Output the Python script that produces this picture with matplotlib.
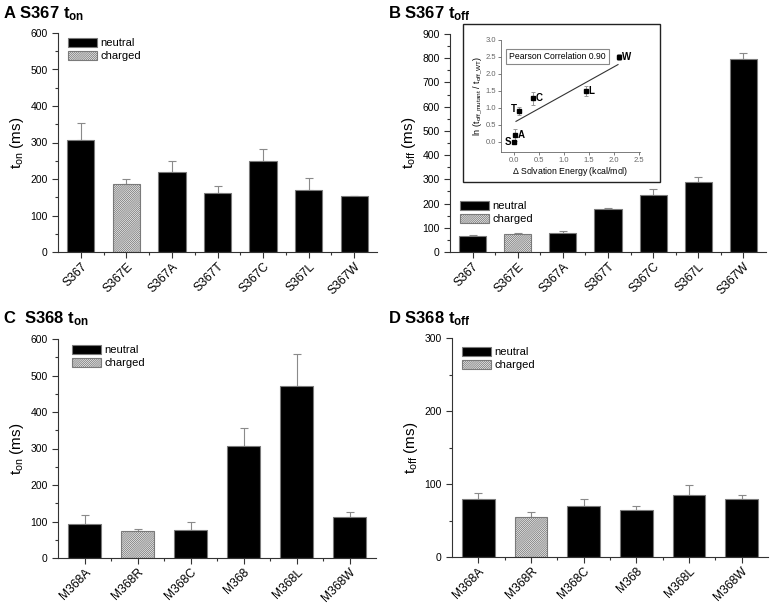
import numpy as np
import matplotlib
matplotlib.use("Agg")
import matplotlib.pyplot as plt
from matplotlib.patches import Patch, Rectangle

plt.rcParams['font.family'] = ['Liberation Sans', 'DejaVu Sans']
plt.rcParams['mathtext.fontset'] = 'custom'
plt.rcParams['mathtext.rm'] = 'Liberation Sans'
plt.rcParams['mathtext.it'] = 'Liberation Sans'
plt.rcParams['mathtext.bf'] = 'Liberation Sans:bold'
plt.rcParams['hatch.linewidth'] = 0.6
plt.rcParams['hatch.color'] = '#707070'

# ---- data ----
a_labels = ["S367", "S367E", "S367A", "S367T", "S367C", "S367L", "S367W"]
a_values = [307, 185, 220, 163, 248, 169, 153]
a_errors = [47, 14, 28, 19, 33, 35, 0]
a_charged = [False, True, False, False, False, False, False]

b_labels = ["S367", "S367E", "S367A", "S367T", "S367C", "S367L", "S367W"]
b_values = [65, 74, 80, 177, 235, 289, 798]
b_errors = [6, 6, 8, 6, 26, 21, 24]
b_charged = [False, True, False, False, False, False, False]

c_labels = ["M368A", "M368R", "M368C", "M368", "M368L", "M368W"]
c_values = [94, 73, 78, 307, 470, 112]
c_errors = [25, 6, 22, 48, 90, 15]
c_charged = [False, True, False, False, False, False]

d_labels = ["M368A", "M368R", "M368C", "M368", "M368L", "M368W"]
d_values = [79, 55, 70, 65, 85, 79]
d_errors = [9, 6, 9, 5, 14, 6]
d_charged = [False, True, False, False, False, False]

# inset data
inset_names = ["S", "A", "T", "C", "L", "W"]
inset_x = [0.0, 0.02, 0.10, 0.38, 1.44, 2.10]
inset_y = [0.0, 0.20, 0.92, 1.28, 1.50, 2.50]
inset_err = [0.0, 0.18, 0.12, 0.20, 0.15, 0.10]
fit_slope = 0.82
fit_intercept = 0.57
fit_range = [0.04, 2.08]
pearson_r = 0.90

fig = plt.figure(figsize=(7.7, 6.03), dpi=100)
W, H = 770.0, 603.0

def fig_rect(l, r, t, b):
    return [l / W, (H - b) / H, (r - l) / W, (b - t) / H]

EDGE = '#7a7a7a'
HATCH = '////////////////'

def bar_panel(rect, labels, values, errors, charged, ymax, ylabel, title, title_xy, leg_xy, bw):
    ax = fig.add_axes(rect)
    x = np.arange(len(labels))
    for i in range(len(labels)):
        if charged[i]:
            ax.bar(x[i], values[i], width=bw, color='white', edgecolor=EDGE,
                   hatch=HATCH, linewidth=0.8, zorder=2)
        else:
            ax.bar(x[i], values[i], width=bw, color='black', edgecolor=EDGE,
                   linewidth=0.8, zorder=2)
    errs = np.array(errors, dtype=float)
    ax.errorbar(x, values, yerr=[np.zeros_like(errs), errs], fmt='none',
                ecolor='#8a8a8a', elinewidth=0.8, capsize=3, capthick=0.8, zorder=1)
    ax.set_xlim(-0.5, len(labels) - 0.5)
    ax.set_ylim(0, ymax)
    ax.set_xticks(x)
    ax.set_xticklabels(labels, rotation=45, ha='right', rotation_mode='anchor', fontsize=8.7)
    ax.set_xticks(x[:-1] + 0.5, minor=True)
    ax.set_yticks(np.arange(0, ymax + 1, 100))
    ax.set_yticks(np.arange(50, ymax, 100), minor=True)
    ax.tick_params(axis='y', labelsize=7.5, length=4, width=0.8, colors='#333333')
    ax.tick_params(axis='x', length=4, width=0.8, colors='#333333', pad=2)
    ax.tick_params(which='minor', length=2, width=0.8, colors='#333333')
    ax.tick_params(axis='x', labelcolor='black')
    ax.tick_params(axis='y', labelcolor='black')
    for s in ['top', 'right']:
        ax.spines[s].set_visible(False)
    for s in ['left', 'bottom']:
        ax.spines[s].set_color('#333333')
        ax.spines[s].set_linewidth(0.8)
    ax.set_ylabel(ylabel, fontsize=11, labelpad=3)
    fig.text(title_xy[0] / W, 1 - title_xy[1] / H, title, fontsize=12,
             fontweight='bold', ha='left', va='baseline')
    handles = [Patch(facecolor='black', edgecolor=EDGE, linewidth=0.8, label='neutral'),
               Patch(facecolor='white', edgecolor=EDGE, hatch=HATCH,
                     linewidth=0.8, label='charged')]
    ax.legend(handles=handles, loc='upper left',
              bbox_to_anchor=(leg_xy[0] / W, 1 - leg_xy[1] / H),
              bbox_transform=fig.transFigure, frameon=False, fontsize=8,
              handlelength=2.6, handleheight=0.85, handletextpad=0.3,
              labelspacing=0.25, borderpad=0, borderaxespad=0)
    return ax

axA = bar_panel(fig_rect(58, 377, 33, 252), a_labels, a_values, a_errors, a_charged,
                600, r'$\mathregular{t_{on}}$ (ms)', r'A S367 $\mathbf{t_{on}}$', (3, 18), (68, 38), 0.6)
axB = bar_panel(fig_rect(450, 766, 34, 252), b_labels, b_values, b_errors, b_charged,
                900, r'$\mathregular{t_{off}}$ (ms)', r'B S367 $\mathbf{t_{off}}$', (388, 18), (460, 201), 0.6)
axC = bar_panel(fig_rect(58, 376, 339, 558), c_labels, c_values, c_errors, c_charged,
                600, r'$\mathregular{t_{on}}$ (ms)', r'C  S368 $\mathbf{t_{on}}$', (3, 323), (72, 345), 0.63)
axD = bar_panel(fig_rect(452, 768, 338, 557), d_labels, d_values, d_errors, d_charged,
                300, r'$\mathregular{t_{off}}$ (ms)', r'D S368 $\mathbf{t_{off}}$', (388, 323), (462, 347), 0.62)

# ---- inset ----
box = Rectangle((463 / W, 1 - 182 / H), 197 / W, 158 / H, transform=fig.transFigure,
                facecolor='white', edgecolor='#222222', linewidth=1.0, zorder=5)
fig.patches.append(box)
axI = fig.add_axes(fig_rect(501, 640, 40, 152), zorder=6)
axI.patch.set_alpha(0)
axI.errorbar(inset_x, inset_y, yerr=inset_err, fmt='s', color='black', markersize=2.5,
             ecolor='#999999', elinewidth=0.7, capsize=1.5, capthick=0.7)
fx = np.array(fit_range)
axI.plot(fx, fit_slope * fx + fit_intercept, color='#333333', linewidth=0.8)
offsets = {"S": (-0.05, 0.0, 'right'), "A": (0.05, 0.0, 'left'), "T": (-0.04, 0.04, 'right'),
           "C": (0.05, 0.0, 'left'), "L": (0.05, 0.0, 'left'), "W": (0.05, 0.0, 'left')}
for n, xx, yy in zip(inset_names, inset_x, inset_y):
    dx, dy, ha = offsets[n]
    axI.text(xx + dx, yy + dy, n, fontsize=7, fontweight='bold', ha=ha, va='center')
axI.text(-0.1, 2.5, "Pearson Correlation %.2f" % pearson_r, fontsize=6.2, ha='left', va='center',
         bbox=dict(boxstyle='square,pad=0.35', facecolor='white', edgecolor='#888888', linewidth=0.8))
axI.set_xlim(-0.26, 2.52)
axI.set_ylim(-0.3, 3.0)
axI.set_xticks(np.arange(0, 2.51, 0.5))
axI.set_yticks(np.arange(0, 3.01, 0.5))
axI.xaxis.set_major_formatter(matplotlib.ticker.FormatStrFormatter('%.1f'))
axI.yaxis.set_major_formatter(matplotlib.ticker.FormatStrFormatter('%.1f'))
axI.tick_params(labelsize=5.5, length=2, width=0.6, colors='#666666', pad=1.5)
for s in ['top', 'right']:
    axI.spines[s].set_visible(False)
for s in ['left', 'bottom']:
    axI.spines[s].set_color('#666666')
    axI.spines[s].set_linewidth(0.6)
axI.set_xlabel(r'$\Delta$ Solvation Energy (kcal/mol)', fontsize=6.3, labelpad=1)
axI.set_ylabel(r'ln (t$\mathregular{_{off\_mutant}}$ / t$\mathregular{_{off\_WT}}$)', fontsize=6.5, labelpad=1)

fig.savefig("out.png", dpi=100)
